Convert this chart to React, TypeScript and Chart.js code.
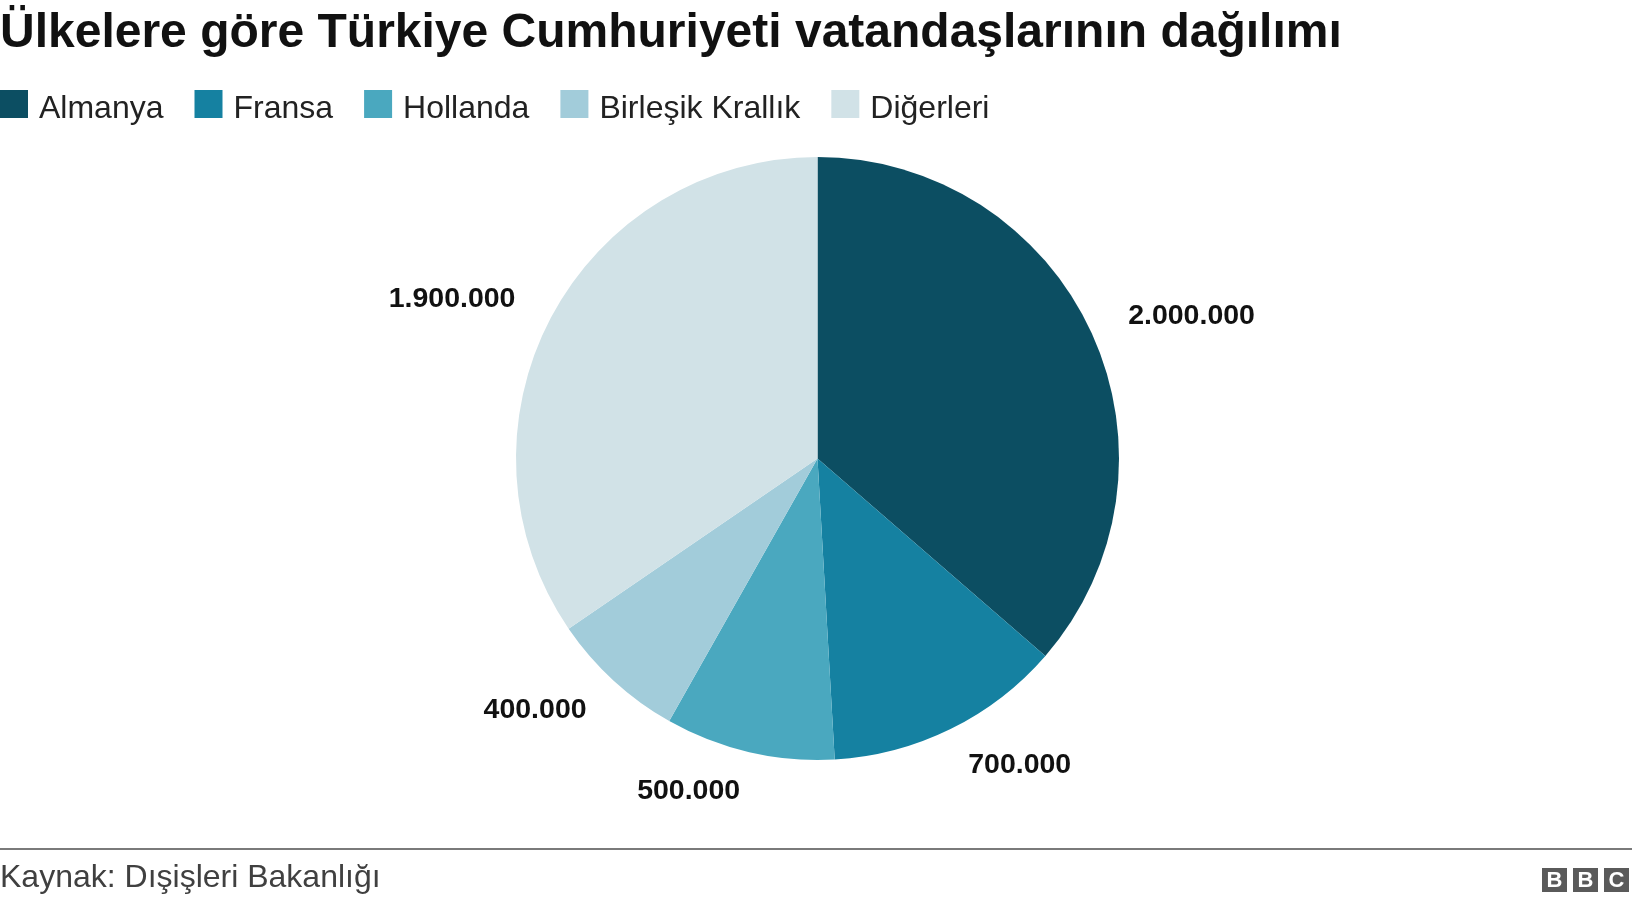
import React, { useEffect, useRef } from "react";
import { Chart, registerables } from "chart.js";

Chart.register(...registerables);

const TITLE = "Ülkelere göre Türkiye Cumhuriyeti vatandaşlarının dağılımı";
const SOURCE = "Kaynak: Dışişleri Bakanlığı";
const categories = ["Almanya", "Fransa", "Hollanda", "Birleşik Krallık", "Diğerleri"];
const values = [2000000, 700000, 500000, 400000, 1900000];
const sliceColors = ["#0c4e62", "#1581a1", "#4aa8bf", "#a2ccda", "#d1e2e7"];

const FONT = "'Liberation Sans', Arial, Helvetica, sans-serif";

function formatNumber(v: number): string {
  return String(Math.round(v)).replace(/\B(?=(\d{3})+(?!\d))/g, ".");
}

const decorPlugin = {
  id: "decor",
  afterDraw(chart: any) {
    const ctx = chart.ctx as CanvasRenderingContext2D;
    const W = chart.width;
    ctx.save();

    // Title
    ctx.fillStyle = "#111111";
    ctx.font = `bold 48px ${FONT}`;
    ctx.textAlign = "left";
    ctx.textBaseline = "alphabetic";
    ctx.fillText(TITLE, 0, 47);

    // Legend
    const labels: string[] = chart.data.labels;
    const bg: string[] = chart.data.datasets[0].backgroundColor;
    ctx.font = `32px ${FONT}`;
    let x = 0;
    labels.forEach((lab, i) => {
      ctx.fillStyle = bg[i];
      ctx.fillRect(x, 90, 28, 28);
      ctx.fillStyle = "#222222";
      ctx.fillText(lab, x + 39, 118);
      x += 39 + ctx.measureText(lab).width + 31;
    });

    // Value labels
    const meta = chart.getDatasetMeta(0);
    const data: number[] = chart.data.datasets[0].data;
    ctx.font = `bold 28.5px ${FONT}`;
    ctx.fillStyle = "#111111";
    ctx.textBaseline = "middle";
    meta.data.forEach((arc: any, i: number) => {
      const p = arc.getProps(["x", "y", "startAngle", "endAngle", "outerRadius"], true);
      const mid = (p.startAngle + p.endAngle) / 2;
      const r = p.outerRadius + 40;
      const px = p.x + Math.cos(mid) * r;
      const py = p.y + Math.sin(mid) * r;
      ctx.textAlign = Math.cos(mid) >= 0 ? "left" : "right";
      ctx.fillText(formatNumber(data[i]), px, py);
    });

    // Footer line
    ctx.fillStyle = "#7a7a7a";
    ctx.fillRect(0, 848, W, 2);

    // Source
    ctx.font = `32px ${FONT}`;
    ctx.fillStyle = "#404040";
    ctx.textAlign = "left";
    ctx.textBaseline = "alphabetic";
    ctx.fillText(SOURCE, 0, 887);

    // BBC logo
    const letters = ["B", "B", "C"];
    ctx.font = `bold 22px ${FONT}`;
    ctx.textAlign = "center";
    ctx.textBaseline = "middle";
    letters.forEach((l, i) => {
      const bx = 1542 + i * 31;
      ctx.fillStyle = "#5a5a5a";
      ctx.fillRect(bx, 868, 25, 24);
      ctx.fillStyle = "#ffffff";
      ctx.fillText(l, bx + 12.5, 881);
    });

    ctx.restore();
  },
};

export default function App() {
  const ref = useRef<HTMLCanvasElement | null>(null);

  useEffect(() => {
    if (!ref.current) return;
    const chart = new Chart(ref.current, {
      type: "pie",
      data: {
        labels: categories,
        datasets: [
          {
            data: values,
            backgroundColor: sliceColors,
            borderWidth: 0,
            hoverOffset: 0,
            offset: 0,
          },
        ],
      },
      options: {
        responsive: false,
        animation: false,
        events: [],
        layout: {
          autoPadding: false,
          padding: { left: 516, right: 513, top: 157, bottom: 144 },
        },
        plugins: {
          legend: { display: false },
          title: { display: false },
          tooltip: { enabled: false },
        },
      },
      plugins: [decorPlugin],
    });
    return () => chart.destroy();
  }, []);

  return (
    <div style={{ position: "absolute", left: 0, top: 0, width: 1632, height: 904, background: "#ffffff" }}>
      <canvas ref={ref} width={1632} height={904} style={{ display: "block" }} />
    </div>
  );
}
